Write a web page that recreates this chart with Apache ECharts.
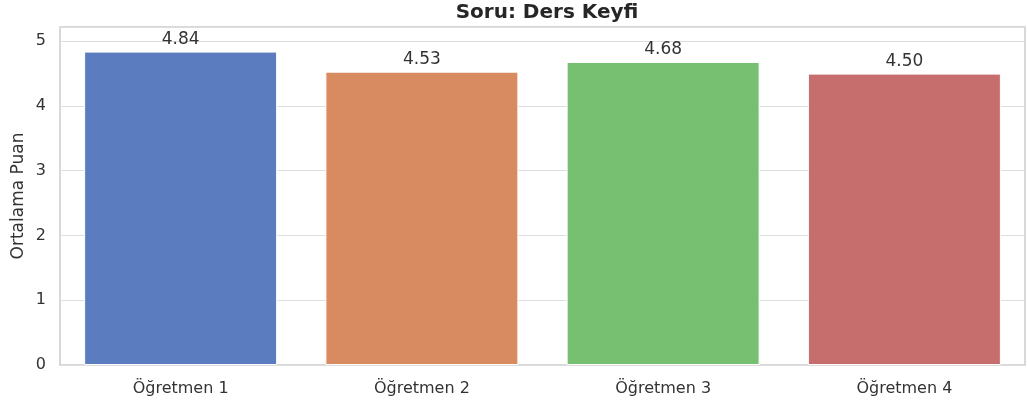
<!DOCTYPE html>
<html>
<head>
<meta charset="utf-8">
<script src="https://cdn.jsdelivr.net/npm/echarts@6/dist/echarts.min.js"></script>
</head>
<body style="margin:0">
<div id="chart" style="width:1027px;height:407px"></div>
<script>
var teachers = ['Öğretmen 1', 'Öğretmen 2', 'Öğretmen 3', 'Öğretmen 4'];
var scores = [4.84, 4.53, 4.68, 4.50];
var colors = ['#5b7dc0', '#d88a60', '#77bf71', '#c66d6d'];

var chart = echarts.init(document.getElementById('chart'));
chart.setOption({
  animation: false,
  textStyle: { fontFamily: 'DejaVu Sans' },
  title: {
    text: 'Soru: Ders Keyfi', left: 542, top: -2, textAlign: 'center',
    textStyle: { fontSize: 20, fontWeight: 'bold', color: '#262626', fontFamily: 'DejaVu Sans' }
  },
  grid: {
    left: 60, right: 2, top: 27, bottom: 42, show: true, borderColor: '#cccccc', borderWidth: 1.5,
    outerBoundsMode: 'none', containLabel: false
  },
  xAxis: {
    type: 'category', data: teachers,
    axisLine: { show: false }, axisTick: { show: false },
    axisLabel: { color: '#333', fontSize: 16, margin: 16 }
  },
  yAxis: {
    type: 'value', min: 0, max: 5.22, interval: 1,
    name: 'Ortalama Puan', nameLocation: 'middle', nameGap: 33, nameMoveOverlap: false,
    nameTextStyle: { color: '#333', fontSize: 17 },
    axisLabel: { color: '#333', fontSize: 16, margin: 14, showMaxLabel: false },
    splitLine: { lineStyle: { color: '#dddddd', width: 1.2 } }
  },
  series: [{
    type: 'bar', barCategoryGap: '20%',
    data: scores.map(function (v, i) {
      return { value: v, itemStyle: { color: colors[i], borderColor: '#ffffff', borderWidth: 1 } };
    }),
    label: {
      show: true, position: 'top', distance: 4, color: '#333', fontSize: 17,
      formatter: function (p) { return p.value.toFixed(2); }
    }
  }]
});
</script>
</body>
</html>
